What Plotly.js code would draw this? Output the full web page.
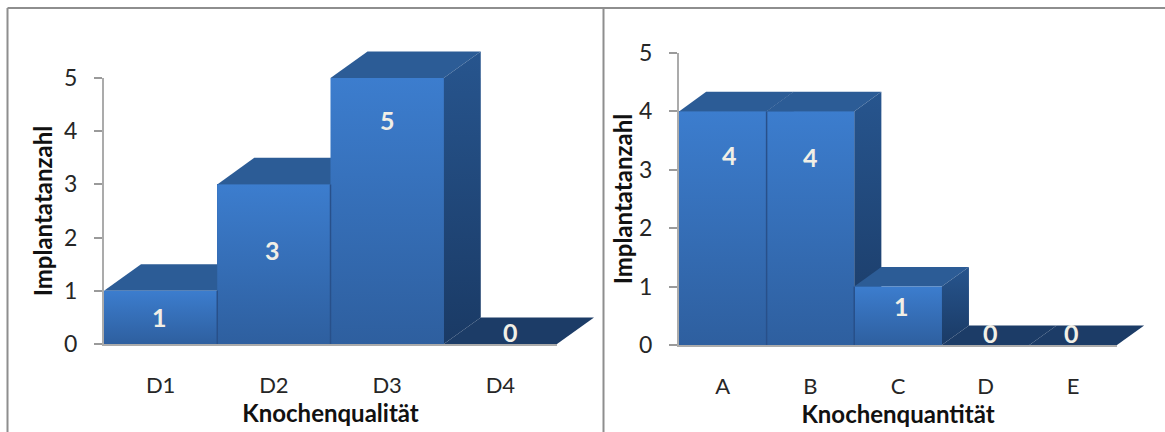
<!DOCTYPE html>
<html>
<head>
<meta charset="utf-8">
<script src="https://cdn.plot.ly/plotly-3.0.1.min.js"></script>
<style>html,body{margin:0;padding:0;background:#fff}#chart{width:1165px;height:432px}</style>
</head>
<body>
<div id="chart"></div>
<script>
// Implant counts by bone quality and bone quantity
const qualityCategories = ['D1', 'D2', 'D3', 'D4'];
const qualityValues = [1, 3, 5, 0];
const quantityCategories = ['A', 'B', 'C', 'D', 'E'];
const quantityValues = [4, 4, 1, 0, 0];
const valueTicks = [0, 1, 2, 3, 4, 5];

const W = 1165, H = 432;
const FONT = 'Lato, "Open Sans", sans-serif';

const panels = [
  {
    axis: '', depthAxis: '3', cats: qualityCategories, vals: qualityValues, title: 'Knochenqualität',
    left: 104, right: 557, top: 78, bottom: 344,
    depthX: 0.327, depthY: 0.5,
    yTitleStandoff: 5,
    labelShift: [[-1, -26], [-1, -66], [0, -42], [10, 12]]
  },
  {
    axis: '2', depthAxis: '4', cats: quantityCategories, vals: quantityValues, title: 'Knochenquantität',
    left: 679, right: 1117, top: 53, bottom: 345,
    depthX: 0.31, depthY: 0.335,
    yTitleStandoff: 0,
    labelShift: [[7, -44], [0, -46], [3, -19], [5, 12], [-2, 12]]
  }
];

const FRONT = [[0, '#3c7dce'], [1, '#2e5f9f']];
const SIDE = [[0, '#27558e'], [1, '#1a3a65']];
const TOP_COLOR = '#2c5c96';
const FLOOR_COLOR = '#1c3c67';
const SEPARATOR = '#28508a';

const traces = [];
const annotations = [];
const layout = {
  width: W, height: H, margin: { l: 0, r: 0, t: 0, b: 0 },
  paper_bgcolor: '#ffffff', plot_bgcolor: 'rgba(0,0,0,0)',
  showlegend: false, font: { family: FONT, color: '#222222' }, bargap: 0,
  annotations: annotations,
  shapes: [
    // Outer frame and the divider between the two panels
    { type: 'line', xref: 'paper', yref: 'paper', x0: 7.5 / W, x1: 1, y0: 1 - 8 / H, y1: 1 - 8 / H, line: { color: '#8e8e8e', width: 2 } },
    { type: 'line', xref: 'paper', yref: 'paper', x0: 7.5 / W, x1: 7.5 / W, y0: 0, y1: 1 - 8 / H, line: { color: '#8e8e8e', width: 2 } },
    { type: 'line', xref: 'paper', yref: 'paper', x0: 603.5 / W, x1: 603.5 / W, y0: 0, y1: 1 - 8 / H, line: { color: '#8e8e8e', width: 2 } }
  ]
};

panels.forEach(p => {
  const n = p.cats.length;
  const idx = p.cats.map((_, i) => i);
  const catPx = (p.right - p.left) / n;
  const unitPx = (p.bottom - p.top) / 5;

  layout['xaxis' + p.axis] = {
    domain: [p.left / W, p.right / W], range: [-0.5, n - 0.5], anchor: 'y' + p.axis,
    tickmode: 'array', tickvals: idx, ticktext: p.cats, ticks: '', ticklabelstandoff: 21,
    tickfont: { family: FONT, size: 22, color: '#262626' }, showgrid: false, zeroline: false,
    showline: true, linecolor: '#ababab', linewidth: 2, automargin: false,
    title: { text: p.title, standoff: 0, font: { family: FONT, size: 24, color: '#111111', weight: 'bold' } }
  };
  layout['yaxis' + p.axis] = {
    domain: [1 - p.bottom / H, 1 - p.top / H], range: [0, 5], anchor: 'x' + p.axis,
    tickmode: 'array', tickvals: valueTicks, ticks: 'outside', ticklen: 8, tickwidth: 2,
    tickcolor: '#9a9a9a', ticklabelstandoff: 12,
    tickfont: { family: FONT, size: 23, color: '#262626' }, showgrid: false, zeroline: false,
    showline: true, linecolor: '#ababab', linewidth: 2, automargin: false,
    title: { text: 'Implantatanzahl', standoff: p.yTitleStandoff, font: { family: FONT, size: 24, color: '#111111', weight: 'bold' } }
  };

  // Hidden companion axes at the same scale, with room for the extrusion depth
  layout['xaxis' + p.depthAxis] = {
    visible: false, anchor: 'y' + p.depthAxis,
    domain: [p.left / W, (p.right + p.depthX * catPx + 2) / W],
    range: [-0.5, n - 0.5 + p.depthX + 2 / catPx]
  };
  layout['yaxis' + p.depthAxis] = {
    visible: false, anchor: 'x' + p.depthAxis,
    domain: [1 - p.bottom / H, 1 - (p.top - (p.depthY * unitPx + 2)) / H],
    range: [0, 5 + p.depthY + 2 / unitPx]
  };

  // Base columns, one per category
  traces.push({
    type: 'bar', x: idx, y: p.vals, width: 1, xaxis: 'x' + p.axis, yaxis: 'y' + p.axis,
    marker: { color: '#3568ab', line: { width: 0 } }, hoverinfo: 'x+y', showlegend: false
  });

  const face = (xs, ys, style) => Object.assign({
    type: 'scatter', mode: 'lines', x: xs, y: ys,
    xaxis: 'x' + p.depthAxis, yaxis: 'y' + p.depthAxis,
    fill: 'toself', hoverinfo: 'skip', showlegend: false
  }, style);

  // Extruded faces, painted left to right so each column hides the one before it
  p.vals.forEach((v, i) => {
    const x0 = i - 0.5, x1 = i + 0.5, dx = p.depthX, dy = p.depthY;
    traces.push(face([x0, x0 + dx, x1 + dx, x1, x0], [v, v + dy, v + dy, v, v], {
      line: { width: 0 }, fillcolor: v > 0 ? TOP_COLOR : FLOOR_COLOR
    }));
    if (v > 0) {
      traces.push(face([x1, x1 + dx, x1 + dx, x1, x1], [v, v + dy, dy, 0, v], {
        line: { width: 0 },
        fillgradient: { type: 'vertical', colorscale: SIDE, start: v + dy, stop: 0 }
      }));
      traces.push(face([x0, x1, x1, x0, x0], [0, 0, v, v, 0], {
        line: { width: 0 },
        fillgradient: { type: 'vertical', colorscale: FRONT, start: v, stop: 0 }
      }));
      // Darker seam where this column meets its left neighbour
      if (i > 0 && p.vals[i - 1] > 0) {
        traces.push(face([x0, x0], [0, Math.min(v, p.vals[i - 1])], {
          fill: 'none', line: { color: SEPARATOR, width: 1.5 }
        }));
      }
    }
    annotations.push({
      xref: 'x' + p.axis, yref: 'y' + p.axis, x: i, y: v, text: String(v),
      showarrow: false, xshift: p.labelShift[i][0], yshift: p.labelShift[i][1],
      font: { family: FONT, size: 25, color: '#f1efe6', weight: 'bold' }
    });
  });
});

Plotly.newPlot('chart', traces, layout, { displayModeBar: false, staticPlot: true });
</script>
</body>
</html>
